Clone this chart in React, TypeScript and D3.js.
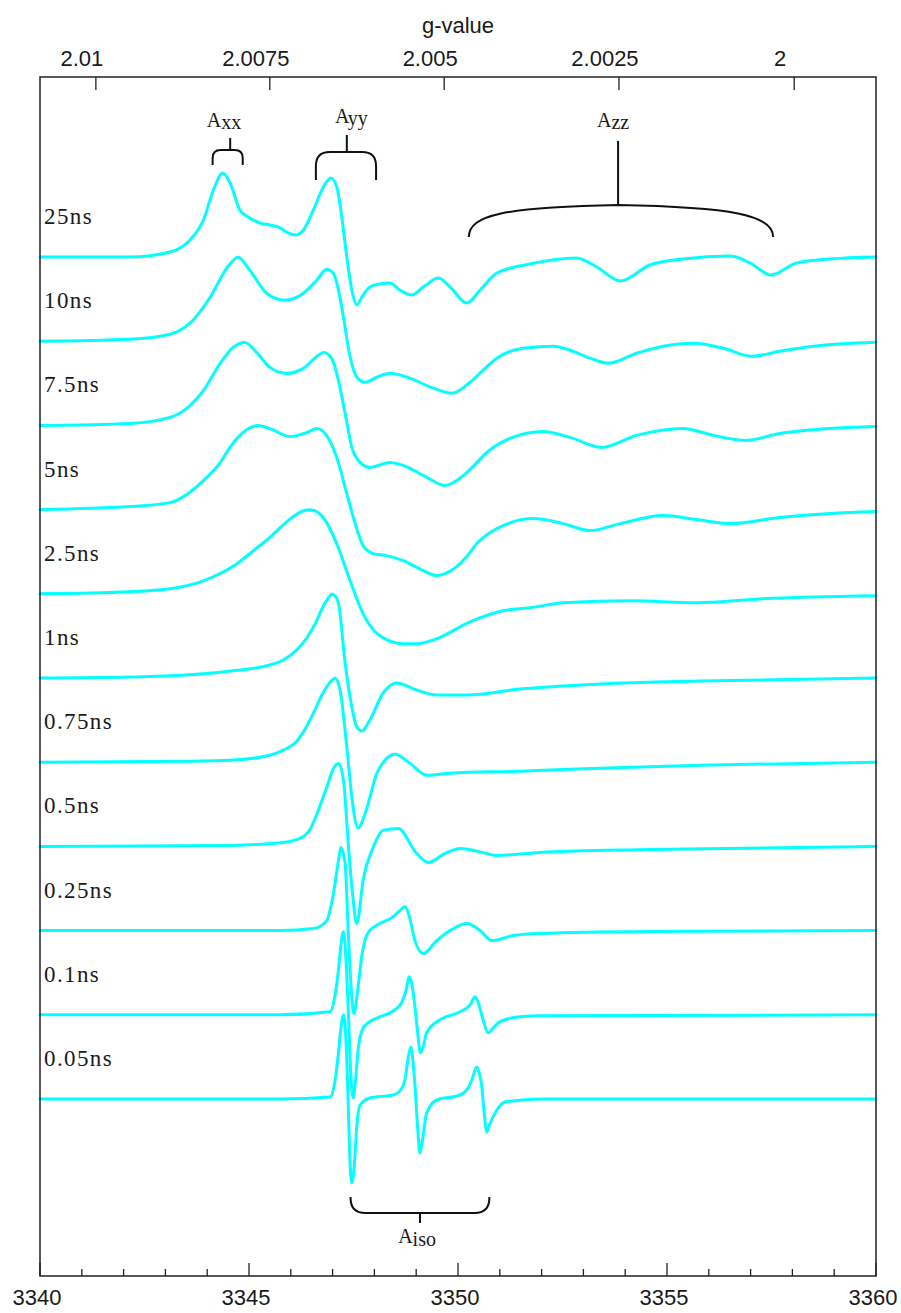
import React from "react";
import * as d3 from "d3";

// ---------- data ----------
const fieldDomain: [number, number] = [3340, 3360]; // magnetic field (G)
const fieldMajorTicks = [3340, 3345, 3350, 3355, 3360];
const fieldMinorTicks = d3.range(3341, 3360, 1).filter((v) => v % 5 !== 0);
const gTicks = [2.01, 2.0075, 2.005, 2.0025, 2];
const gTickLabels = ["2.01", "2.0075", "2.005", "2.0025", "2"];
const mwFrequencyGHz = 9.4;
const fieldPerGHz = 714.4773; // h/muB in G per GHz
const traceSpacing = 84.2; // vertical offset between spectra (a.u.)

const traceLabels = ["25ns", "10ns", "7.5ns", "5ns", "2.5ns", "1ns", "0.75ns", "0.5ns", "0.25ns", "0.1ns", "0.05ns"];

type P = [number, number];

const spec25ns: P[] = [
  [3340, 0], [3342.15, 0], [3343.11, 5], [3343.59, 17], [3343.91, 37], [3344.15, 67], [3344.37, 84],
  [3344.55, 74], [3344.78, 47], [3344.98, 40], [3345.26, 34], [3345.5, 32], [3345.7, 30], [3345.94, 24],
  [3346.12, 22], [3346.3, 27], [3346.54, 47], [3346.78, 70], [3346.96, 79], [3347.1, 70], [3347.22, 40],
  [3347.34, 0], [3347.46, -33], [3347.58, -48], [3347.7, -40], [3347.89, -30], [3348.13, -27], [3348.37, -26],
  [3348.61, -33], [3348.89, -38], [3349.17, -30], [3349.53, -21], [3349.81, -30], [3350.21, -46], [3350.53, -33],
  [3350.93, -16], [3351.72, -7], [3352.84, -1], [3353.32, -10], [3353.89, -24], [3354.59, -8], [3355.39, -2],
  [3356.51, 1], [3356.99, -6], [3357.49, -18], [3358.1, -6], [3358.9, -2], [3360, 0],
];

const spec10ns: P[] = [
  [3340, 0], [3342.15, 2], [3343.11, 7], [3343.59, 18], [3344.07, 44], [3344.47, 73], [3344.74, 84],
  [3345.02, 71], [3345.42, 48], [3345.86, 41], [3346.3, 48], [3346.62, 61], [3346.86, 72], [3347.02, 68],
  [3347.14, 51], [3347.26, 24], [3347.42, -16], [3347.58, -36], [3347.78, -41], [3348.06, -36], [3348.37, -32],
  [3348.85, -37], [3349.41, -47], [3349.85, -52], [3350.29, -41], [3350.6, -29], [3350.93, -17], [3351.56, -7],
  [3352.28, -5], [3352.68, -9], [3353.16, -17], [3353.6, -22], [3354.27, -12], [3354.91, -5], [3355.63, -2],
  [3356.35, -7], [3357.03, -15], [3357.7, -10], [3358.5, -5], [3360, -1],
];

const spec7p5ns: P[] = [
  [3340, 0], [3342.15, 2], [3343.11, 8], [3343.51, 17], [3343.91, 35], [3344.31, 62], [3344.62, 78],
  [3344.9, 83], [3345.18, 73], [3345.5, 58], [3345.9, 52], [3346.3, 57], [3346.62, 69], [3346.79, 73],
  [3346.98, 67], [3347.14, 45], [3347.3, 12], [3347.46, -22], [3347.66, -37], [3347.89, -42], [3348.37, -37],
  [3348.69, -40], [3349.17, -50], [3349.69, -60], [3350.13, -50], [3350.41, -39], [3350.69, -27], [3351.24, -13],
  [3352.04, -6], [3352.68, -12], [3353.44, -22], [3354.27, -10], [3355.39, -3], [3356.11, -10], [3356.87, -15],
  [3357.7, -8], [3358.9, -3], [3360, -1],
];

const spec5ns: P[] = [
  [3340, 0], [3342.15, 3], [3343.11, 7], [3343.91, 29], [3344.31, 47], [3344.51, 60], [3344.71, 71],
  [3344.95, 80], [3345.2, 84], [3345.5, 81], [3345.98, 73], [3346.38, 77], [3346.62, 81], [3346.86, 74],
  [3347.1, 52], [3347.34, 16], [3347.54, -14], [3347.73, -36], [3347.97, -44], [3348.29, -46], [3348.69, -51],
  [3349.17, -61], [3349.49, -66], [3349.69, -64], [3349.97, -57], [3350.21, -47], [3350.45, -34], [3350.77, -23],
  [3351.08, -16], [3351.8, -9], [3352.52, -14], [3353.16, -21], [3353.88, -14], [3354.91, -6], [3355.71, -10],
  [3356.51, -14], [3357.7, -8], [3358.9, -4], [3360, -2],
];

const spec2p5ns: P[] = [
  [3340, 0], [3342.15, 2], [3343.11, 5], [3343.91, 13], [3344.71, 30], [3345.1, 43], [3345.5, 56.5],
  [3345.82, 69], [3346.14, 79.5], [3346.31, 83], [3346.46, 84], [3346.63, 82], [3346.78, 76], [3347.1, 50],
  [3347.42, 13], [3347.73, -20], [3348.13, -42], [3348.69, -50], [3349.01, -50], [3349.49, -45], [3350.29, -28],
  [3351.08, -17], [3351.72, -14], [3352.52, -9], [3354.11, -7], [3355.71, -9], [3357.3, -5], [3360, -2],
];

const spec1ns: P[] = [
  [3340, 0], [3342.15, 1], [3343.5, 3], [3344.55, 7], [3345.5, 13], [3345.82, 18], [3346.14, 28],
  [3346.38, 40], [3346.58, 54], [3346.78, 72], [3346.9, 80], [3346.98, 84], [3347.06, 82], [3347.14, 75],
  [3347.3, 15], [3347.46, -29], [3347.58, -49], [3347.7, -53], [3347.89, -42], [3348.21, -15], [3348.53, -5],
  [3349.01, -12], [3349.49, -17], [3350.21, -17], [3351.48, -11], [3353.4, -6], [3355.79, -3], [3360, 0],
];

const spec0p75ns: P[] = [
  [3340, 0], [3343.5, 1], [3344.55, 2], [3345.5, 7], [3345.82, 12], [3346.14, 21], [3346.34, 33],
  [3346.54, 49], [3346.78, 70], [3346.94, 80], [3347.06, 84], [3347.18, 72], [3347.34, 15], [3347.46, -35],
  [3347.61, -66], [3347.78, -51], [3348.06, -11], [3348.3, 4], [3348.49, 8], [3348.85, -1], [3349.25, -13],
  [3349.81, -11], [3351.48, -9], [3353.4, -6], [3355.79, -3], [3360, 0],
];

const spec0p5ns: P[] = [
  [3340, 0], [3344.55, 1], [3345.82, 4], [3346.22, 8], [3346.46, 17], [3346.63, 33], [3346.78, 50],
  [3346.9, 64], [3346.98, 74], [3347.07, 81], [3347.14, 83], [3347.26, 66], [3347.38, 0], [3347.48, -49],
  [3347.58, -77], [3347.73, -34], [3347.97, -1], [3348.21, 16], [3348.57, 18], [3349.01, -7], [3349.29, -16],
  [3349.69, -7], [3350.05, -2], [3350.48, -5], [3350.93, -9], [3351.96, -6], [3354.59, -3], [3360, 0],
];

const spec0p25ns: P[] = [
  [3340, 0], [3345.74, 0], [3346.54, 2], [3346.86, 10], [3347.02, 37], [3347.14, 70], [3347.2, 83],
  [3347.3, 67], [3347.38, -7], [3347.46, -67], [3347.51, -83], [3347.59, -63], [3347.7, -25], [3347.85, -2],
  [3348.13, 7], [3348.42, 13], [3348.61, 20], [3348.73, 24], [3348.83, 15], [3348.97, -10], [3349.17, -23],
  [3349.49, -10], [3349.89, 2], [3350.21, 7], [3350.53, 0], [3350.81, -10], [3351.32, -5], [3351.96, -3],
  [3354.59, -1], [3360, 0],
];

const spec0p1ns: P[] = [
  [3340, 0], [3345.74, 0], [3346.94, 3], [3347.06, 20], [3347.14, 45], [3347.2, 70], [3347.26, 83],
  [3347.32, 55], [3347.38, 0], [3347.43, -55], [3347.49, -83], [3347.55, -65], [3347.61, -35], [3347.71, -15],
  [3347.85, -8], [3348.13, -2], [3348.49, 5], [3348.66, 13], [3348.76, 25], [3348.83, 38], [3348.9, 30],
  [3348.97, 8], [3349.04, -20], [3349.1, -38], [3349.16, -33], [3349.25, -18], [3349.57, -5], [3350.05, 3],
  [3350.29, 10], [3350.41, 18], [3350.5, 10], [3350.6, -5], [3350.72, -18], [3350.84, -13], [3351.0, -7],
  [3351.48, -2], [3351.96, -1], [3360, 0],
];

const spec0p05ns: P[] = [
  [3340, 0], [3345.74, 0], [3346.94, 2], [3347.06, 19], [3347.14, 46], [3347.2, 71], [3347.26, 84],
  [3347.32, 59], [3347.37, 0], [3347.41, -56], [3347.46, -84], [3347.52, -66], [3347.58, -26], [3347.66, -6],
  [3347.89, 1], [3348.45, 4], [3348.66, 11], [3348.73, 19], [3348.8, 39], [3348.87, 52], [3348.92, 39],
  [3348.97, 14], [3349.03, -26], [3349.09, -54], [3349.15, -41], [3349.25, -14], [3349.49, -1], [3350.05, 4],
  [3350.24, 11], [3350.33, 19], [3350.45, 32], [3350.5, 27], [3350.57, 12], [3350.62, -11], [3350.69, -33],
  [3350.75, -26], [3350.93, -11], [3351.12, -3], [3351.32, -2], [3351.96, 0], [3360, 0],
];

const spectra: P[][] = [
  spec25ns, spec10ns, spec7p5ns, spec5ns, spec2p5ns, spec1ns, spec0p75ns, spec0p5ns, spec0p25ns, spec0p1ns, spec0p05ns,
];

// hyperfine annotations
const annNames = ["A", "A", "A", "A"];
const annSubs = ["xx", "yy", "zz", "iso"];
const annStart = [3344.13, 3346.6, 3350.26, 3347.43];
const annEnd = [3344.85, 3348.04, 3357.54, 3350.75];
const annStem = [3344.55, 3347.34, 3353.83, 3349.09];
const annLabelAt = [3344.4, 3347.45, 3353.71, 3349.02];

// ---------- layout ----------
const W = 901;
const H = 1313;
const L = 40;
const R = 876;
const T = 77;
const B = 1276;
const BASE_LAST = 1099; // pixel row of the lowest spectrum's baseline

const serif = "'Liberation Serif', 'Times New Roman', serif";
const sans = "'Liberation Sans', Arial, Helvetica, sans-serif";

export default function App() {
  const x = d3.scaleLinear().domain(fieldDomain).range([L, R]);
  const n = spectra.length;
  const y = d3.scaleLinear().domain([-(B - BASE_LAST), BASE_LAST - T]).range([B, T]);
  const line = (offset: number) =>
    d3
      .line<P>()
      .x((d) => x(d[0]))
      .y((d) => y(d[1] + offset))
      .curve(d3.curveMonotoneX);

  const fieldOfG = (g: number) => (fieldPerGHz * mwFrequencyGHz) / g;

  const bracketDown = (x1: number, x2: number, yTop: number, yEnd: number, r: number) =>
    `M${x1},${yEnd} L${x1},${yTop + r} Q${x1},${yTop} ${x1 + r},${yTop} L${x2 - r},${yTop} Q${x2},${yTop} ${x2},${yTop + r} L${x2},${yEnd}`;
  const bracketUp = (x1: number, x2: number, yBot: number, yEnd: number, r: number) =>
    `M${x1},${yEnd} L${x1},${yBot - r} Q${x1},${yBot} ${x1 + r},${yBot} L${x2 - r},${yBot} Q${x2},${yBot} ${x2},${yBot - r} L${x2},${yEnd}`;
  const bracketWide = (x1: number, xm: number, x2: number, yTop: number, yEnd: number) =>
    `M${x1},${yEnd} C${x1},${yTop + 10} ${x1 + 36},${yTop + 2} ${xm},${yTop} C${x2 - 42},${yTop + 2} ${x2},${yTop + 10} ${x2},${yEnd}`;

  const ink = "#1a1a1a";

  return (
    <div style={{ position: "absolute", left: 0, top: 0 }}>
      <svg width={W} height={H} viewBox={`0 0 ${W} ${H}`} style={{ display: "block", background: "#fff" }}>
        {/* spectra */}
        {spectra.map((s, i) => (
          <path
            key={"s" + i}
            d={line((n - 1 - i) * traceSpacing)(s) || ""}
            fill="none"
            stroke="#00ffff"
            strokeWidth={3}
            strokeLinejoin="round"
            strokeLinecap="round"
          />
        ))}

        {/* trace labels */}
        {traceLabels.map((t, i) => (
          <text
            key={"l" + i}
            x={44}
            y={y((n - 1 - i) * traceSpacing) - 33}
            fontFamily={serif}
            fontSize={23}
            letterSpacing={1.4}
            fill={ink}
          >
            {t}
          </text>
        ))}

        {/* frame */}
        <rect x={L} y={T} width={R - L} height={B - T} fill="none" stroke="#222" strokeWidth={1.5} />

        {/* bottom axis */}
        {fieldMajorTicks.map((v) => (
          <g key={"bt" + v}>
            <line x1={x(v)} x2={x(v)} y1={B} y2={B - 13} stroke="#222" strokeWidth={1.3} />
            <text x={x(v) - 3} y={1305} textAnchor="middle" fontFamily={sans} fontSize={22} fill={ink}>
              {v}
            </text>
          </g>
        ))}
        {fieldMinorTicks.map((v) => (
          <line key={"mt" + v} x1={x(v)} x2={x(v)} y1={B} y2={B - 7} stroke="#222" strokeWidth={1.3} />
        ))}

        {/* top axis (g-value) */}
        {gTicks.map((g, i) => (
          <g key={"gt" + i}>
            <line x1={x(fieldOfG(g))} x2={x(fieldOfG(g))} y1={T} y2={T + 13} stroke="#222" strokeWidth={1.3} />
            <text x={x(fieldOfG(g)) - 14} y={66} textAnchor="middle" fontFamily={sans} fontSize={22} fill={ink}>
              {gTickLabels[i]}
            </text>
          </g>
        ))}
        <text x={458} y={33} textAnchor="middle" fontFamily={sans} fontSize={22} fill={ink}>
          g-value
        </text>

        {/* annotations */}
        <path d={bracketDown(x(annStart[0]), x(annEnd[0]), 150, 165, 8)} fill="none" stroke="#111" strokeWidth={2} />
        <line x1={x(annStem[0])} x2={x(annStem[0])} y1={150} y2={138} stroke="#111" strokeWidth={2} />
        <path d={bracketDown(x(annStart[1]), x(annEnd[1]), 152, 180, 14)} fill="none" stroke="#111" strokeWidth={2} />
        <line x1={x(annStem[1])} x2={x(annStem[1])} y1={152} y2={135} stroke="#111" strokeWidth={2} />
        <path
          d={bracketWide(x(annStart[2]), x(annStem[2]), x(annEnd[2]), 205, 237)}
          fill="none"
          stroke="#111"
          strokeWidth={2}
        />
        <line x1={x(annStem[2])} x2={x(annStem[2])} y1={205} y2={141} stroke="#111" strokeWidth={2} />
        <path d={bracketUp(x(annStart[3]), x(annEnd[3]), 1213, 1197, 15)} fill="none" stroke="#111" strokeWidth={2} />
        <line x1={x(annStem[3])} x2={x(annStem[3])} y1={1213} y2={1223} stroke="#111" strokeWidth={2} />

        {[127, 123, 127, 1243].map((by, i) => (
          <text key={"a" + i} x={x(annLabelAt[i])} y={by} textAnchor="middle" fontFamily={serif} fontSize={20} fill={ink}>
            {annNames[i]}
            <tspan dy={i === 3 ? 3 : 1.5}>{annSubs[i]}</tspan>
          </text>
        ))}
      </svg>
    </div>
  );
}
